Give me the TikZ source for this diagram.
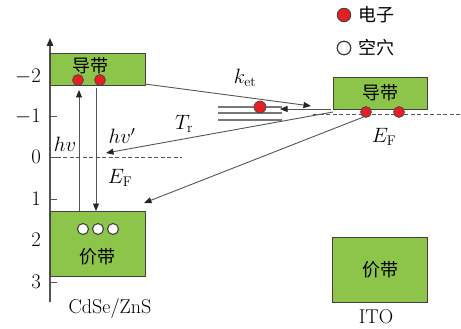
\documentclass[tikz,border=0pt]{standalone}
\usepackage{fontspec}
\newfontfamily\cjk{Noto Sans CJK SC}
\usetikzlibrary{arrows.meta}
\definecolor{bandgreen}{RGB}{141,196,74}
\definecolor{edgegray}{RGB}{65,65,65}
\definecolor{linegray}{RGB}{85,85,85}
\definecolor{elecred}{RGB}{228,32,38}
\begin{document}
\begin{tikzpicture}[x=1pt,y=-1pt,
  band/.style={draw=edgegray, line width=1.1pt, fill=bandgreen, inner sep=0pt, anchor=north west},
  elec/.style={circle, draw=edgegray, line width=0.6pt, fill=elecred, minimum size=11pt, inner sep=0pt},
  hole/.style={circle, draw=edgegray, line width=1.1pt, fill=white, minimum size=11pt, inner sep=0pt},
  cjktxt/.style={font=\cjk\fontsize{18}{20}\selectfont, inner sep=0pt},
  lbl/.style={font=\fontsize{20}{22}\selectfont, inner sep=0pt},
  arr/.style={draw=linegray, line width=0.9pt, -{Triangle[length=7.5pt,width=6pt,color=black!85]}},
  dashln/.style={draw=linegray, line width=0.8pt, dash pattern=on 4pt off 2.5pt},
  trap/.style={draw=linegray!80, line width=1.3pt},
  tick/.style={draw=linegray, line width=1pt}]
\useasboundingbox (0,0) rectangle (461,329);
% axis
\coordinate (axB) at (50,302);
\coordinate (axT) at (50,38);
\draw[draw=linegray, line width=1.4pt, -{Triangle[length=8pt,width=6.5pt,color=black!85]}] (axB) -- (axT);
\foreach \yy/\tt in {77/{$-2$},117/{$-1$},157/{$0$},199/{$1$},240/{$2$},282/{$3$}}{
  \draw[tick] (50,\yy) -- (57,\yy);
  \node[lbl, anchor=east] at (41,\yy) {\tt};
}
% dashed zero line
\coordinate (z0) at (50,157);
\coordinate (z1) at (182,157);
\draw[dashln] (z0) -- (z1);
% CdSe bands
\node[band, minimum width=95pt, minimum height=32pt] (cb1) at (50,53) {};
\node[cjktxt] (cb1t) at (90,66) {导带};
\node[band, minimum width=95pt, minimum height=65pt] (vb1) at (50,211) {};
\node[cjktxt] (vb1t) at (97,257) {价带};
\node[elec] (e1) at (78,80) {};
\node[elec] (e2) at (100,80) {};
\node[hole] (h1) at (83,229) {};
\node[hole] (h2) at (98,229) {};
\node[hole] (h3) at (113,229) {};
% ITO bands
\coordinate (d0) at (313,114);
\coordinate (d1) at (461,114);
\draw[dashln] (d0) -- (d1);
\node[band, minimum width=94pt, minimum height=32pt] (cb2) at (333,77) {};
\node[cjktxt] (cb2t) at (380,93) {导带};
\node[elec] (e3) at (366,112) {};
\node[elec] (e4) at (399,112) {};
\node[band, minimum width=95pt, minimum height=65pt] (vb2) at (332,237) {};
\node[cjktxt] (vb2t) at (380,270) {价带};
% trap levels
\coordinate (t1a) at (218,107); \coordinate (t1b) at (282,107);
\coordinate (t2a) at (218,113); \coordinate (t2b) at (282,113);
\coordinate (t3a) at (218,120); \coordinate (t3b) at (282,120);
\draw[trap] (t1a) -- (t1b);
\draw[trap] (t2a) -- (t2b);
\draw[trap] (t3a) -- (t3b);
\node[elec, minimum size=12pt] (e5) at (260,107) {};
% vertical transitions
\coordinate (hvA) at (79,211);
\coordinate (hvB) at (79,90);
\draw[arr] (hvA) -- (hvB);
\coordinate (hpA) at (96,88);
\coordinate (hpB) at (96,211);
\draw[arr] (hpA) -- (hpB);
% k_et
\coordinate (kA) at (145,84);
\coordinate (kB) at (311,106);
\draw[arr] (kA) -- (kB);
% back transfer
\coordinate (bA) at (331,109);
\coordinate (bB) at (280,109);
\draw[arr] (bA) -- (bB);
% Tr
\coordinate (trA) at (333,112);
\coordinate (trB) at (106,153);
\draw[arr] (trA) -- (trB);
% ITO to valence
\coordinate (vA) at (366,116);
\coordinate (vB) at (144,203);
\draw[arr] (vA) -- (vB);
% labels
\node[lbl] (lhv) at (65,144) {$hv$};
\node[lbl] (lhvp) at (122,136) {$hv'$};
\node[lbl] (lef1) at (120,178) {$E_{\mathrm{F}}$};
\node[lbl] (ltr) at (184,124) {$T_{\mathrm{r}}$};
\node[lbl] (lket) at (245,78) {$k_{\mathrm{et}}$};
\node[lbl] (lef2) at (384,137) {$E_{\mathrm{F}}$};
\node[lbl] (lcd) at (110,308) {CdSe/ZnS};
\node[lbl] (lito) at (376,317) {ITO};
% legend
\node[elec, minimum size=13.5pt, line width=0.9pt] (leg1) at (344,15) {};
\node[cjktxt, anchor=west] (leg1t) at (358,15) {电子};
\node[hole, minimum size=13.5pt, line width=1.3pt] (leg2) at (344,48) {};
\node[cjktxt, anchor=west] (leg2t) at (358,48) {空穴};
\end{tikzpicture}
\end{document}
